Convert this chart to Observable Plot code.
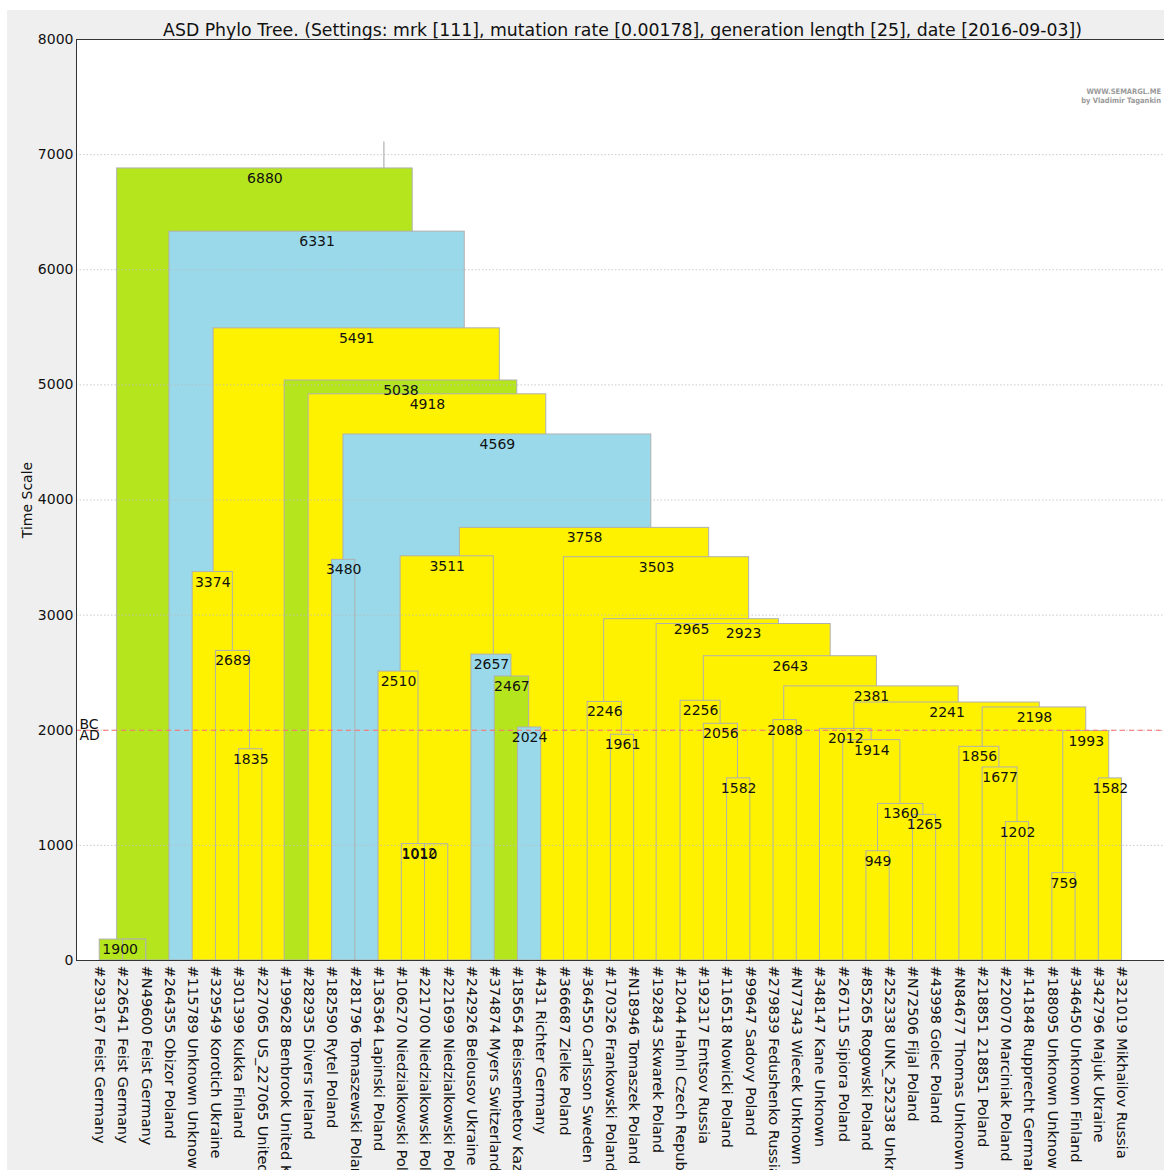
<!DOCTYPE html>
<html><head><meta charset="utf-8">
<script src="https://cdn.jsdelivr.net/npm/d3@7"></script>
<script src="https://cdn.jsdelivr.net/npm/@observablehq/plot@0.6"></script>
<style>
body{margin:0;background:#fff;width:1164px;height:1170px;overflow:hidden;position:relative;font-family:"DejaVu Sans",sans-serif}
#fig{position:absolute;left:7px;top:10px;width:1200px;height:1200px;background:#efefef}
#chart{position:absolute;left:0;top:0;width:1180px;height:1170px}
#chart svg{max-width:none !important}
.logo{position:absolute;right:3px;font-size:7.5px;color:#9a9a9a;font-weight:bold;text-align:right;font-family:"DejaVu Sans Condensed","DejaVu Sans",sans-serif;white-space:nowrap}
</style></head><body>
<div id="fig"></div>
<div id="chart"></div>
<div class="logo" style="top:87px">WWW.SEMARGL.ME</div>
<div class="logo" style="top:96px">by Vladimir Tagankin</div>
<script>
const titleText = "ASD Phylo Tree. (Settings: mrk [111], mutation rate [0.00178], generation length [25], date [2016-09-03])";
const leaves = [
  "#293167 Feist Germany", "#226541 Feist Germany", "#N49600 Feist Germany", "#264355 Obizor Poland",
  "#115789 Unknown Unknown", "#329549 Korotich Ukraine", "#301399 Kukka Finland", "#227065 US_227065 United States",
  "#199628 Benbrook United Kingdom", "#282935 Divers Ireland", "#182590 Rytel Poland", "#281796 Tomaszewski Poland",
  "#136364 Lapinski Poland", "#106270 Niedzialkowski Poland", "#221700 Niedzialkowski Poland", "#221699 Niedzialkowski Poland",
  "#242926 Belousov Ukraine", "#374874 Myers Switzerland", "#185654 Beissembetov Kazakhstan", "#431 Richter Germany",
  "#366687 Zielke Poland", "#364550 Carlsson Sweden", "#170326 Frankowski Poland", "#N18946 Tomaszek Poland",
  "#192843 Skwarek Poland", "#12044 Hahnl Czech Republic", "#192317 Emtsov Russia", "#116518 Nowicki Poland",
  "#99647 Sadovy Poland", "#279839 Fedushenko Russia", "#N77343 Wiecek Unknown", "#348147 Kane Unknown",
  "#267115 Sipiora Poland", "#85265 Rogowski Poland", "#252338 UNK_252338 Unknown", "#N72506 Fijal Poland",
  "#43998 Golec Poland", "#N84677 Thomas Unknown", "#218851 218851 Poland", "#220070 Marciniak Poland",
  "#141848 Rupprecht Germany", "#188095 Unknown Unknown", "#346450 Unknown Finland", "#342796 Majuk Ukraine",
  "#321019 Mikhailov Russia"
];
// clade nodes: label, height (time), span over leaf positions, clade colour group
const nodeLabel  = ["6880","6331","5491","5038","4918","4569","3758","3511","3503","3480","3374","2965","2923","2689","2657","2643","2510","2467","2381","2256","2246","2241","2198","2088","2056","2024","2012","1993","1961","1914","1856","1835","1677","1582","1582","1360","1265","1202","1012","1010","949","759","1900",""];
const nodeHeight = [6880,6331,5491,5038,4918,4569,3758,3511,3503,3480,3374,2965,2923,2689,2657,2643,2510,2467,2381,2256,2246,2241,2198,2088,2056,2024,2012,1993,1961,1914,1856,1835,1677,1582,1582,1360,1265,1202,1012,1010,949,759,182,182];
const nodeLeft   = [0.75,3,4.9,7.96,8.99,10.49,15.5,12.95,19.98,10,4,21.71,23.97,5,16,26,12,17,29.46,25,21,32.48,38,29,26,18,31,41.47,22,32,37,6,38,27,43,33.5,35,39,13,14,33,41,0,1];
const nodeRight  = [13.47,15.71,17.22,17.97,19.22,23.74,26.23,16.96,27.95,11,5.73,29.23,31.46,6.47,17.72,33.45,13.72,18.48,36.97,26.72,22.47,40.46,42.46,30,27.47,19,33.22,43.45,23,34.46,38.72,7,39.5,28,44,35.45,36,40,14.5,15,34,42,2,2];
const nodeClade  = ["G","B","Y","G","Y","B","Y","Y","Y","B","Y","Y","Y","Y","B","Y","Y","G","Y","Y","Y","Y","Y","Y","Y","B","Y","Y","Y","Y","Y","Y","Y","Y","Y","Y","Y","Y","Y","Y","Y","Y","G","G"];
const labelShift = {"1010": 13.77, "1900": 0.88};
const rootStem = {x: 12.23, from: 6880, to: 7110};
const yTicks = [0,1000,2000,3000,4000,5000,6000,7000,8000];
const eraLine = 2000;

const nodes = nodeLabel.map((l, i) => ({
  label: l, height: nodeHeight[i], left: nodeLeft[i], right: nodeRight[i], clade: nodeClade[i],
  lx: labelShift[l] !== undefined ? labelShift[l] : (nodeLeft[i] + nodeRight[i]) / 2
})).sort((a, b) => b.height - a.height);

const chart = Plot.plot({
  width: 1180, height: 1170,
  marginLeft: 76, marginTop: 39, marginBottom: 210, marginRight: 12,
  x: {domain: [-1, 46], axis: null},
  y: {domain: [0, 8000], axis: null},
  color: {domain: ["G","B","Y"], range: ["#b5e61d","#99d9ea","#fff200"]},
  style: {fontFamily: "DejaVu Sans", fontSize: "14px", background: "transparent", overflow: "visible", color: "#111", maxWidth: "none"},
  marks: [
    Plot.frame({fill: "white", stroke: null}),
    Plot.rect(nodes, {x1: "left", x2: "right", y1: 0, y2: "height", fill: "clade", stroke: "#b0b0b0", strokeWidth: 1}),
    Plot.ruleY(yTicks.slice(1, -1), {stroke: "#bdbdbd", strokeDasharray: "1.5,2", strokeWidth: 0.8}),
    Plot.ruleX([rootStem], {x: "x", y1: "from", y2: "to", stroke: "#b0b0b0", strokeWidth: 1.2}),
    Plot.ruleY([eraLine], {stroke: "#ff6e6e", strokeDasharray: "5,4", strokeWidth: 1}),
    Plot.text(nodes.filter(d => d.label), {x: "lx", y: "height", text: "label", lineAnchor: "top", dy: 4.5, fontSize: 14, fill: "#111"}),
    Plot.text(["BC"], {x: -1, y: eraLine, text: d => d, dx: 3, textAnchor: "start", lineAnchor: "bottom", dy: -1.5, fontSize: 14}),
    Plot.text(["AD"], {x: -1, y: eraLine, text: d => d, dx: 3, textAnchor: "start", lineAnchor: "top", dy: 0, fontSize: 14}),
    Plot.axisX(d3.range(leaves.length), {anchor: "bottom", tickFormat: i => leaves[i], tickRotate: 90, tickSize: 0, tickPadding: 5, fontSize: 14.6, label: null}),
    Plot.axisY(yTicks, {anchor: "left", tickSize: 0, tickPadding: 3, fontSize: 14, tickFormat: d => String(d), label: "Time Scale", labelAnchor: "center", labelArrow: "none", labelOffset: 54}),
    Plot.frame({stroke: "#333", strokeWidth: 1}),
    Plot.text([titleText], {frameAnchor: "top", text: d => d, lineAnchor: "bottom", dy: -3.5, fontSize: 17.3})
  ]
});
chart.style.maxWidth = "none";
document.getElementById("chart").appendChild(chart);
</script>
</body></html>
